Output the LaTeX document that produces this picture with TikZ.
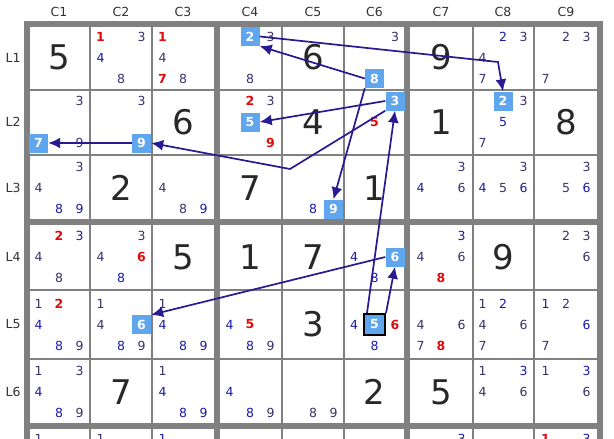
\documentclass[tikz,border=0pt]{standalone}
\usepackage{fontspec}
\setmainfont{DejaVu Sans}
\usepackage{tikz}
\usetikzlibrary{arrows.meta}
\definecolor{gridc}{RGB}{128,128,128}
\definecolor{givc}{RGB}{40,40,40}
\definecolor{labc}{RGB}{50,50,50}
\definecolor{candp}{RGB}{62,46,108}
\definecolor{candb}{RGB}{26,26,168}
\definecolor{candr}{RGB}{224,10,10}
\definecolor{hil}{RGB}{96,166,238}
\definecolor{arrc}{RGB}{40,26,146}
\def\colc{{59,121,183,250,313,374.5,441,503,566}}
\def\rowc{{57.5,122,188,257,324.5,392,460}}

\begin{document}
\begin{tikzpicture}[x=1pt,y=-1pt,
  gl/.style={draw=gridc,line width=2pt},
  gL/.style={draw=gridc,line width=6pt},
  lab/.style={font=\fontsize{12.5}{14}\selectfont,text=labc,inner sep=0pt},
  giv/.style={font=\fontsize{34}{36}\selectfont,text=givc,inner sep=0pt},
  cand/.style={font=\fontsize{12.5}{14}\selectfont,inner sep=0pt},
  cp/.style={cand,text=candp},
  cb/.style={cand,text=candb},
  cr/.style={cand,text=candr,font=\fontsize{12.5}{14}\selectfont\bfseries},
  ch/.style={cand,fill=hil,text=white,font=\fontsize{12.5}{14}\selectfont\bfseries,minimum size=19pt},
  cx/.style={ch,draw=black,line width=2pt,minimum size=21pt},
  link/.style={draw=arrc,line width=1.7pt,-{Latex[length=12pt,width=11pt]}}
]
  \useasboundingbox (0,0) rectangle (614,439);
  \clip (0,0) rectangle (614,439);
  \fill[white] (0,0) rectangle (614,439);

  \foreach \x in {90,152,282,344,472.5,534} \draw[gl] (\x,21) -- (\x,445);
  \foreach \y in {89.5,154.5,290,359} \draw[gl] (24,\y) -- (603,\y);
  \foreach \x in {27,216.5,407,600} \draw[gL] (\x,20.5) -- (\x,445);
  \foreach \y in {23.5,222,426} \draw[gL] (24,\y) -- (603,\y);

  \foreach \c in {1,...,9} {
    \pgfmathsetmacro\cx{\colc[\c-1]}
    \node[lab] (col\c) at (\cx,12) {C\c};
  }
  \foreach \r in {1,...,6} {
    \pgfmathsetmacro\cy{\rowc[\r-1]}
    \node[lab] (row\r) at (13,\cy) {L\r};
  }

  \foreach \r/\c/\d in {1/1/5,1/5/6,1/7/9,2/3/6,2/5/4,2/7/1,2/9/8,
      3/2/2,3/4/7,3/6/1,4/3/5,4/4/1,4/5/7,4/8/9,5/5/3,6/2/7,6/6/2,6/7/5} {
    \pgfmathsetmacro\cx{\colc[\c-1]}
    \pgfmathsetmacro\cy{\rowc[\r-1]}
    \node[giv] (g\r\c) at (\cx,\cy) {\d};
  }

  \foreach \r/\c/\d/\s in {
      1/2/1/cr,1/2/3/cp,1/2/4/cb,1/2/8/cp,
      1/3/1/cr,1/3/4/cp,1/3/7/cr,1/3/8/cp,
      1/4/2/ch,1/4/3/cp,1/4/8/cp,
      1/6/3/cp,1/6/8/ch,
      1/8/2/cb,1/8/3/cp,1/8/4/cp,1/8/7/cp,
      1/9/2/cp,1/9/3/cp,1/9/7/cp,
      2/1/3/cp,2/1/7/ch,2/1/9/cp,
      2/2/3/cp,2/2/9/ch,
      2/4/2/cr,2/4/3/cp,2/4/5/ch,2/4/9/cr,
      2/6/3/ch,2/6/5/cr,
      2/8/2/ch,2/8/3/cp,2/8/5/cb,2/8/7/cp,
      3/1/3/cp,3/1/4/cp,3/1/8/cb,3/1/9/cb,
      3/3/4/cp,3/3/8/cp,3/3/9/cb,
      3/5/8/cb,3/5/9/ch,
      3/7/3/cp,3/7/4/cb,3/7/6/cp,
      3/8/3/cp,3/8/4/cb,3/8/5/cp,3/8/6/cb,
      3/9/3/cp,3/9/5/cp,3/9/6/cb,
      4/1/2/cr,4/1/3/cb,4/1/4/cp,4/1/8/cp,
      4/2/3/cp,4/2/4/cp,4/2/6/cr,4/2/8/cb,
      4/6/4/cb,4/6/6/ch,4/6/8/cb,
      4/7/3/cb,4/7/4/cp,4/7/6/cp,4/7/8/cr,
      4/9/2/cp,4/9/3/cp,4/9/6/cp,
      5/1/1/cp,5/1/2/cr,5/1/4/cb,5/1/8/cb,5/1/9/cp,
      5/2/1/cp,5/2/4/cp,5/2/6/ch,5/2/8/cb,5/2/9/cp,
      5/3/1/cp,5/3/4/cb,5/3/8/cb,5/3/9/cb,
      5/4/4/cb,5/4/5/cr,5/4/8/cb,5/4/9/cp,
      5/6/4/cb,5/6/5/cx,5/6/6/cr,5/6/8/cb,
      5/7/4/cp,5/7/6/cp,5/7/7/cp,5/7/8/cr,
      5/8/1/cp,5/8/2/cb,5/8/4/cp,5/8/6/cp,5/8/7/cp,
      5/9/1/cb,5/9/2/cp,5/9/6/cb,5/9/7/cp,
      6/1/1/cp,6/1/3/cp,6/1/4/cb,6/1/8/cb,6/1/9/cp,
      6/3/1/cp,6/3/4/cb,6/3/8/cb,6/3/9/cb,
      6/4/4/cb,6/4/8/cb,6/4/9/cp,
      6/5/8/cp,6/5/9/cp,
      6/8/1/cp,6/8/3/cb,6/8/4/cp,6/8/6/cp,
      6/9/1/cp,6/9/3/cb,6/9/6/cp,
      7/1/1/cp,7/2/1/cp,7/3/1/cb,7/7/3/cb,7/9/1/cr,7/9/3/cb} {
    \pgfmathsetmacro\cx{\colc[\c-1]+(mod(\d-1,3)-1)*20.5}
    \pgfmathsetmacro\cy{\rowc[\r-1]+(int((\d-1)/3)-1)*21}
    \node[\s] (k\r\c\d) at (\cx,\cy) {\d};
  }

  \coordinate (b1) at (498,62);
  \coordinate (b2) at (290,169);
  \draw[link] (k142.east) -- (b1) -- (k282.north);
  \draw[link] (k168.west) -- (k142.south east);
  \draw[link] (k263.west) -- (k245.east);
  \draw[link] (k168.south west) -- (k359.north);
  \draw[link] (k263.south west) -- (b2) -- (k229.east);
  \draw[link] (k229.west) -- (k217.east);
  \draw[link] ([xshift=4pt]k565.north west) -- (k263.south);
  \draw[link] (k565.north east) -- (k466.south);
  \draw[link] (k466.west) -- (k526.north east);
\end{tikzpicture}
\end{document}
